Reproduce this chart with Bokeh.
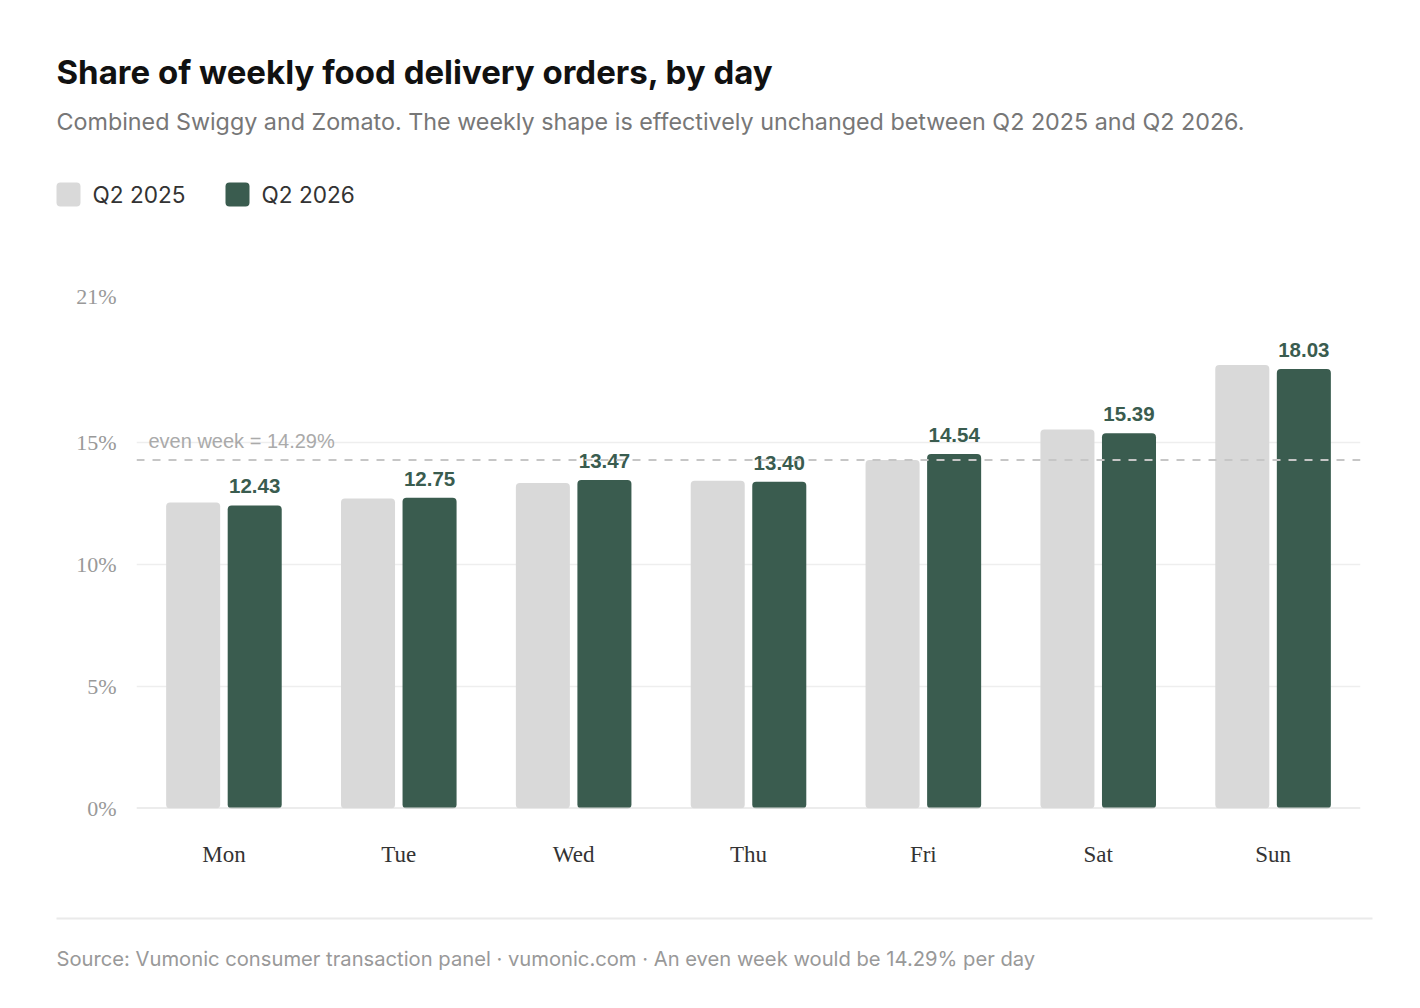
from bokeh.plotting import figure
from bokeh.layouts import column
from bokeh.models import ColumnDataSource, FactorRange, Range1d, FixedTicker, Span, Label
from bokeh.transform import dodge
from bokeh.core.properties import value
from bokeh.embed import file_html
from bokeh.resources import INLINE

days = ["Mon", "Tue", "Wed", "Thu", "Fri", "Sat", "Sun"]
q2_2025 = [12.55, 12.71, 13.35, 13.44, 14.29, 15.55, 18.19]
q2_2026 = [12.43, 12.75, 13.47, 13.40, 14.54, 15.39, 18.03]
y_ticks = [0, 5, 10, 15, 21]
y_tick_labels = ["0%", "5%", "10%", "15%", "21%"]
even_week = 14.29
series_names = ["Q2 2025", "Q2 2026"]

GREY = "#d9d9d9"
GREEN = "#3a5c4f"
W = 1404
FRAME_L, FRAME_R = 136, 1360
HEAD_H, MAIN_H, FOOT_H = 250, 650, 90


def blank(h, y0):
    f = figure(width=W, height=h, x_range=Range1d(0, W),
               y_range=Range1d(y0 + h, y0), output_backend="svg",
               toolbar_location=None, x_axis_type=None, y_axis_type=None,
               min_border=0, outline_line_color=None, frame_align=False)
    f.xgrid.visible = False
    f.ygrid.visible = False
    return f


# ---------- header ----------
head = blank(HEAD_H, 0)
head.add_layout(Label(x=56, y=71, text="Share of weekly food delivery orders, by day",
                      text_font="Inter", text_font_size="33px", text_font_style="bold",
                      text_color="#111111", text_baseline="middle"))
head.add_layout(Label(x=56, y=121,
                      text="Combined Swiggy and Zomato. The weekly shape is effectively unchanged between Q2 2025 and Q2 2026.",
                      text_font="Inter", text_font_size="23.3px", text_color="#777777",
                      text_baseline="middle"))
leg_x = [56, 225]
head.quad(left=leg_x, right=[x + 24 for x in leg_x], top=[182, 182], bottom=[206, 206],
          fill_color=[GREY, GREEN], line_color=None, border_radius=4)
for x0, name in zip(leg_x, series_names):
    head.add_layout(Label(x=x0 + 36, y=194, text=name, text_font="Inter",
                          text_font_size="22.6px", text_color="#333333",
                          text_baseline="middle"))

# ---------- main chart ----------
src = ColumnDataSource(dict(day=days, a=q2_2025, b=q2_2026,
                            lab=[f"{v:.2f}" for v in q2_2026]))

p = figure(width=W, height=MAIN_H, x_range=FactorRange(*days, range_padding=0),
           y_range=Range1d(0, 21), output_backend="svg", toolbar_location=None,
           min_border_left=FRAME_L, min_border_right=W - FRAME_R, min_border_top=46,
           min_border_bottom=92, outline_line_color=None, frame_align=False)

p.vbar(x=dodge("day", -0.176, range=p.x_range), top="a", width=0.309, source=src,
       fill_color=GREY, line_color=None, border_radius=4)
p.vbar(x=dodge("day", 0.176, range=p.x_range), top="b", width=0.309, source=src,
       fill_color=GREEN, line_color=None, border_radius=4)
p.text(x=dodge("day", 0.176, range=p.x_range), y="b", text="lab", source=src,
       text_font=value("Liberation Sans"), text_font_style="bold",
       text_font_size="20.5px", text_color=GREEN, text_align="center",
       text_baseline="bottom", y_offset=-12)

p.xaxis.axis_line_color = None
p.xaxis.major_tick_line_color = None
p.xaxis.minor_tick_line_color = None
p.xaxis.major_label_text_font = "Liberation Serif"
p.xaxis.major_label_text_font_size = "23px"
p.xaxis.major_label_text_color = "#333333"
p.xaxis.major_label_standoff = 27
p.xgrid.grid_line_color = None

p.yaxis.ticker = FixedTicker(ticks=y_ticks)
p.yaxis.major_label_overrides = {t: l for t, l in zip(y_ticks, y_tick_labels)}
p.yaxis.axis_line_color = None
p.yaxis.major_tick_line_color = None
p.yaxis.minor_tick_line_color = None
p.yaxis.major_label_text_font = "Liberation Serif"
p.yaxis.major_label_text_font_size = "22px"
p.yaxis.major_label_text_color = "#999999"
p.yaxis.major_label_standoff = 14
p.ygrid.ticker = FixedTicker(ticks=y_ticks[1:])
p.ygrid.grid_line_color = "#eeeeee"
p.ygrid.grid_line_width = 1.5

p.add_layout(Span(location=0, dimension="width", line_color="#d9d9d9", line_width=2))
p.add_layout(Span(location=even_week, dimension="width", line_color="#c6c6c6",
                  line_width=2, line_dash="8 8", level="overlay"))
p.add_layout(Label(x=0, y=even_week, x_offset=12, y_offset=8, text="even week = 14.29%",
                   text_font="Liberation Sans", text_font_size="20px",
                   text_color="#aaaaaa", text_baseline="bottom"))

# ---------- footer ----------
foot = blank(FOOT_H, HEAD_H + MAIN_H)
foot.segment(x0=[56], x1=[1372], y0=[918], y1=[918], line_color="#eaeaea", line_width=2)
foot.add_layout(Label(x=56, y=958,
                      text="Source: Vumonic consumer transaction panel · vumonic.com · An even week would be 14.29% per day",
                      text_font="Inter", text_font_size="20.2px", text_color="#999999",
                      text_baseline="middle"))

layout = column(head, p, foot, spacing=0)
open("out.html", "w").write(file_html(layout, INLINE))
